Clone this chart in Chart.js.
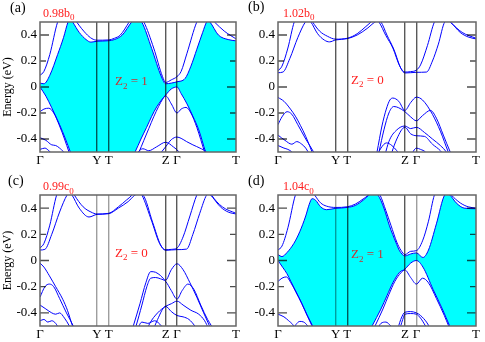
<!DOCTYPE html>
<html>
<head>
<meta charset="utf-8">
<script src="https://cdn.jsdelivr.net/npm/chart.js@4.4.0/dist/chart.umd.min.js"></script>
<style>
html, body { margin: 0; padding: 0; background: #fff; }
#wrap { position: relative; width: 485px; height: 342px; overflow: hidden;
        font-family: 'Liberation Serif', 'Times New Roman', serif; }
canvas { position: absolute; }
.lbl { position: absolute; white-space: nowrap; line-height: 1; }
.pl { font-size: 14px; color: #000; }
.st { font-size: 12px; color: #ff2020; }
.z2 { font-size: 13px; color: #ff2020; }
.z2.oncyan { color: #c83232; }
.lbl sub { font-size: 9px; vertical-align: baseline; position: relative; top: 0.4em; }
</style>
</head>
<body>
<div id="wrap">
  <canvas id="pa" width="242" height="171" style="left:0;top:0"></canvas>
  <canvas id="pb" width="243" height="171" style="left:242px;top:0"></canvas>
  <canvas id="pc" width="242" height="171" style="left:0;top:171px"></canvas>
  <canvas id="pd" width="243" height="171" style="left:242px;top:171px"></canvas>

  <div class="lbl pl" style="left:10px;top:0.6px">(a)</div>
  <div class="lbl pl" style="left:248px;top:0.3px">(b)</div>
  <div class="lbl pl" style="left:8px;top:173.8px">(c)</div>
  <div class="lbl pl" style="left:248px;top:173.8px">(d)</div>

  <div class="lbl st" style="left:43px;top:6.6px">0.98b<sub>0</sub></div>
  <div class="lbl st" style="left:283px;top:6.6px">1.02b<sub>0</sub></div>
  <div class="lbl st" style="left:43px;top:180px">0.99c<sub>0</sub></div>
  <div class="lbl st" style="left:283px;top:180px">1.04c<sub>0</sub></div>

  <div class="lbl z2 oncyan" style="left:115px;top:74px">Z<sub>2</sub> = 1</div>
  <div class="lbl z2" style="left:351px;top:72.6px">Z<sub>2</sub> = 0</div>
  <div class="lbl z2" style="left:115px;top:245.8px">Z<sub>2</sub> = 0</div>
  <div class="lbl z2 oncyan" style="left:351px;top:247px">Z<sub>2</sub> = 1</div>
</div>

<script>
// k-path (Gamma-Y-T-Z-Gamma-T), normalised length
const kTicks = [0, 0.291, 0.35, 0.641, 0.699, 1];
const kLabels = ['Γ', 'Y', 'T', 'Z', 'Γ', 'T'];
const eTicks = [-0.4, -0.3, -0.2, -0.1, 0, 0.1, 0.2, 0.3, 0.4];
const eLabels = ['-0.4', '', '-0.2', '', '0', '', '0.2', '', '0.4'];

// bands as [k, E(eV)]
// (a) 0.98 b0
const a_c1 = [[0,0.09],[0.02,0.12],[0.05,0.25],[0.09,0.5],[0.135,0.62],[0.187,0.5],[0.235,0.41],[0.265,0.372],[0.291,0.36],[0.35,0.362],[0.38,0.375],[0.41,0.4],[0.455,0.5],[0.49,0.58],[0.53,0.5],[0.58,0.3],[0.625,0.08],[0.641,0.035],[0.67,0.055],[0.699,0.08],[0.72,0.12],[0.75,0.26],[0.8,0.5],[0.835,0.58],[0.89,0.5],[0.94,0.43],[1,0.37]];
const a_c2 = [[0,0.03],[0.02,0.025],[0.05,0.09],[0.09,0.25],[0.12,0.38],[0.143,0.5],[0.155,0.53],[0.167,0.5],[0.2,0.42],[0.235,0.365],[0.26,0.345],[0.291,0.352],[0.35,0.356],[0.38,0.365],[0.42,0.4],[0.468,0.5],[0.493,0.53],[0.519,0.5],[0.57,0.295],[0.62,0.077],[0.641,0.025],[0.67,0.03],[0.699,0.04],[0.74,0.065],[0.77,0.16],[0.8,0.29],[0.83,0.42],[0.85,0.5],[0.858,0.51],[0.867,0.5],[0.91,0.4],[0.96,0.365],[1,0.355]];
const a_v1 = [[0,0],[0.03,-0.07],[0.06,-0.16],[0.1,-0.29],[0.13,-0.4],[0.155,-0.5],[0.2,-0.68],[0.3,-0.85],[0.4,-0.72],[0.485,-0.5],[0.515,-0.4],[0.544,-0.31],[0.57,-0.225],[0.595,-0.154],[0.62,-0.1],[0.641,-0.062],[0.67,-0.015],[0.699,0],[0.72,-0.05],[0.75,-0.13],[0.78,-0.225],[0.81,-0.33],[0.845,-0.5],[0.9,-0.72],[1,-0.9]];
const a_v2 = [[0,-0.19],[0.02,-0.17],[0.045,-0.163],[0.07,-0.2],[0.1,-0.3],[0.125,-0.4],[0.148,-0.5],[0.18,-0.62],[0.3,-0.9],[0.42,-0.75],[0.505,-0.5],[0.53,-0.41],[0.555,-0.32],[0.58,-0.23],[0.605,-0.15],[0.625,-0.095],[0.641,-0.068],[0.67,-0.13],[0.699,-0.2],[0.72,-0.17],[0.745,-0.157],[0.77,-0.2],[0.8,-0.31],[0.84,-0.5],[0.88,-0.66],[1,-0.9]];
const a_v3 = [[0,-0.39],[0.03,-0.41],[0.06,-0.445],[0.08,-0.45],[0.1,-0.47],[0.12,-0.5],[0.14,-0.56]];
const a_v4 = [[0,-0.48],[0.025,-0.47],[0.045,-0.49],[0.065,-0.52]];
const a_v5 = [[0.46,-0.58],[0.5,-0.5],[0.525,-0.475],[0.555,-0.49],[0.595,-0.46],[0.641,-0.425],[0.68,-0.46],[0.71,-0.5],[0.74,-0.56]];
const a_v6 = [[0.59,-0.56],[0.62,-0.5],[0.641,-0.46],[0.67,-0.405],[0.699,-0.385],[0.72,-0.395],[0.748,-0.42],[0.78,-0.445],[0.816,-0.47],[0.85,-0.5],[0.88,-0.56]];

// (b) 1.02 b0
const b_c1 = [[0,0.125],[0.02,0.16],[0.05,0.3],[0.082,0.5],[0.13,0.62],[0.175,0.5],[0.21,0.43],[0.25,0.39],[0.291,0.368],[0.35,0.375],[0.4,0.41],[0.44,0.46],[0.47,0.5],[0.49,0.53],[0.51,0.5],[0.545,0.395],[0.58,0.3],[0.615,0.16],[0.641,0.115],[0.67,0.118],[0.699,0.13],[0.72,0.17],[0.755,0.32],[0.79,0.5],[0.83,0.56],[0.87,0.5],[0.93,0.42],[1,0.375]];
const b_c2 = [[0,0.11],[0.025,0.115],[0.06,0.22],[0.1,0.38],[0.138,0.5],[0.152,0.52],[0.166,0.5],[0.2,0.41],[0.235,0.36],[0.26,0.347],[0.291,0.362],[0.35,0.372],[0.4,0.4],[0.45,0.45],[0.49,0.5],[0.505,0.51],[0.52,0.5],[0.55,0.4],[0.585,0.29],[0.62,0.145],[0.641,0.108],[0.67,0.11],[0.699,0.113],[0.75,0.115],[0.78,0.2],[0.81,0.33],[0.842,0.5],[0.855,0.51],[0.87,0.5],[0.92,0.42],[0.96,0.385],[1,0.37]];
const b_v1 = [[0,-0.08],[0.03,-0.11],[0.063,-0.17],[0.09,-0.23],[0.113,-0.295],[0.14,-0.38],[0.172,-0.5],[0.21,-0.65],[0.35,-0.95],[0.47,-0.72],[0.5,-0.5],[0.525,-0.3],[0.547,-0.17],[0.565,-0.1],[0.58,-0.085],[0.61,-0.11],[0.641,-0.18],[0.67,-0.12],[0.699,-0.078],[0.73,-0.1],[0.78,-0.21],[0.82,-0.34],[0.86,-0.5],[0.9,-0.64],[1,-0.85]];
const b_v2 = [[0,-0.29],[0.02,-0.23],[0.046,-0.19],[0.07,-0.21],[0.1,-0.29],[0.14,-0.4],[0.18,-0.5],[0.22,-0.62],[0.35,-0.95],[0.48,-0.7],[0.51,-0.5],[0.535,-0.33],[0.56,-0.2],[0.585,-0.15],[0.61,-0.16],[0.641,-0.19],[0.67,-0.23],[0.699,-0.26],[0.73,-0.22],[0.77,-0.18],[0.8,-0.24],[0.835,-0.37],[0.87,-0.5],[0.92,-0.66],[1,-0.85]];
const b_v3 = [[0,-0.37],[0.035,-0.41],[0.07,-0.44],[0.095,-0.42],[0.12,-0.44],[0.14,-0.47],[0.16,-0.52]];
const b_v4 = [[0,-0.45],[0.03,-0.47],[0.05,-0.48],[0.07,-0.5],[0.09,-0.54]];
const b_v5 = [[0.52,-0.65],[0.56,-0.42],[0.6,-0.33],[0.641,-0.3],[0.67,-0.32],[0.699,-0.31],[0.74,-0.35],[0.78,-0.4],[0.82,-0.45],[0.85,-0.5],[0.88,-0.58]];
const b_v6 = [[0.55,-0.62],[0.6,-0.4],[0.641,-0.31],[0.67,-0.36],[0.699,-0.375],[0.74,-0.38],[0.78,-0.44],[0.82,-0.49],[0.84,-0.53]];
const b_v7 = [[0.49,-0.56],[0.52,-0.47],[0.548,-0.43],[0.575,-0.45],[0.6,-0.49],[0.62,-0.53]];
const b_v8 = [[0.67,-0.53],[0.699,-0.47],[0.72,-0.48],[0.745,-0.5],[0.76,-0.53]];

// (c) 0.99 c0
const c_c1 = [[0,0.095],[0.02,0.13],[0.05,0.27],[0.085,0.5],[0.13,0.62],[0.175,0.5],[0.22,0.41],[0.26,0.37],[0.291,0.355],[0.35,0.36],[0.4,0.41],[0.44,0.46],[0.47,0.5],[0.495,0.55],[0.52,0.5],[0.57,0.3],[0.61,0.13],[0.641,0.082],[0.67,0.085],[0.699,0.095],[0.73,0.18],[0.765,0.34],[0.8,0.5],[0.84,0.6],[0.875,0.5],[0.93,0.41],[1,0.36]];
const c_c2 = [[0,0.08],[0.025,0.085],[0.06,0.2],[0.1,0.37],[0.138,0.5],[0.15,0.52],[0.163,0.5],[0.2,0.4],[0.25,0.332],[0.291,0.352],[0.35,0.357],[0.4,0.4],[0.45,0.45],[0.485,0.5],[0.503,0.51],[0.525,0.5],[0.575,0.29],[0.615,0.12],[0.641,0.078],[0.699,0.083],[0.748,0.087],[0.78,0.2],[0.815,0.36],[0.85,0.5],[0.86,0.51],[0.87,0.5],[0.92,0.41],[0.96,0.37],[1,0.355]];
const c_v1 = [[0,-0.02],[0.02,-0.05],[0.048,-0.117],[0.08,-0.2],[0.116,-0.296],[0.14,-0.38],[0.166,-0.5],[0.2,-0.63],[0.35,-0.95],[0.44,-0.68],[0.476,-0.5],[0.51,-0.33],[0.54,-0.17],[0.565,-0.085],[0.59,-0.09],[0.615,-0.115],[0.641,-0.15],[0.67,-0.07],[0.699,-0.025],[0.73,-0.07],[0.765,-0.17],[0.8,-0.28],[0.835,-0.4],[0.865,-0.5],[0.9,-0.62],[1,-0.85]];
const c_v2 = [[0,-0.28],[0.025,-0.2],[0.048,-0.18],[0.07,-0.2],[0.1,-0.29],[0.135,-0.4],[0.17,-0.5],[0.21,-0.63],[0.35,-0.95],[0.45,-0.68],[0.49,-0.5],[0.52,-0.34],[0.545,-0.2],[0.565,-0.135],[0.59,-0.13],[0.615,-0.14],[0.641,-0.16],[0.67,-0.23],[0.699,-0.295],[0.725,-0.23],[0.755,-0.18],[0.785,-0.22],[0.82,-0.34],[0.855,-0.45],[0.875,-0.5],[0.91,-0.62],[1,-0.85]];
const c_v3 = [[0,-0.34],[0.03,-0.37],[0.06,-0.4],[0.08,-0.41],[0.1,-0.4],[0.125,-0.44],[0.15,-0.5],[0.17,-0.56]];
const c_v4 = [[0,-0.46],[0.02,-0.45],[0.04,-0.47],[0.06,-0.46],[0.08,-0.48],[0.1,-0.53]];
const c_v5 = [[0.52,-0.62],[0.56,-0.48],[0.6,-0.4],[0.641,-0.35],[0.67,-0.33],[0.699,-0.31],[0.73,-0.34],[0.77,-0.38],[0.81,-0.41],[0.84,-0.46],[0.86,-0.52]];
const c_v6 = [[0.56,-0.6],[0.6,-0.45],[0.641,-0.35],[0.67,-0.39],[0.699,-0.42],[0.73,-0.43],[0.76,-0.45],[0.79,-0.5],[0.81,-0.55]];
const c_v7 = [[0.49,-0.55],[0.52,-0.47],[0.55,-0.48],[0.585,-0.46],[0.62,-0.5],[0.64,-0.54]];

// (d) 1.04 c0
const d_c1 = [[0,0.08],[0.02,0.11],[0.05,0.25],[0.088,0.5],[0.135,0.62],[0.185,0.5],[0.215,0.44],[0.245,0.415],[0.291,0.405],[0.35,0.41],[0.39,0.43],[0.43,0.47],[0.455,0.5],[0.48,0.56],[0.515,0.5],[0.545,0.38],[0.57,0.27],[0.6,0.14],[0.62,0.08],[0.641,0.045],[0.67,0.07],[0.699,0.075],[0.73,0.15],[0.76,0.3],[0.79,0.5],[0.83,0.58],[0.875,0.5],[0.92,0.44],[0.96,0.41],[1,0.4]];
const d_c2 = [[0,0.045],[0.02,0.03],[0.045,0.06],[0.08,0.13],[0.11,0.22],[0.14,0.34],[0.158,0.43],[0.172,0.472],[0.19,0.46],[0.215,0.41],[0.245,0.388],[0.291,0.398],[0.35,0.405],[0.39,0.42],[0.43,0.46],[0.46,0.5],[0.485,0.52],[0.505,0.5],[0.535,0.4],[0.563,0.265],[0.595,0.14],[0.614,0.074],[0.641,0.035],[0.67,0.05],[0.699,0.058],[0.732,0.023],[0.76,0.08],[0.8,0.28],[0.842,0.5],[0.855,0.51],[0.868,0.5],[0.9,0.44],[0.94,0.4],[1,0.395]];
const d_v1 = [[0,0],[0.025,-0.055],[0.045,-0.1],[0.065,-0.16],[0.085,-0.22],[0.115,-0.31],[0.147,-0.415],[0.175,-0.5],[0.22,-0.65],[0.3,-0.8],[0.4,-0.72],[0.475,-0.5],[0.52,-0.37],[0.55,-0.27],[0.58,-0.17],[0.614,-0.09],[0.641,-0.066],[0.67,-0.02],[0.699,0],[0.732,-0.05],[0.783,-0.22],[0.83,-0.37],[0.867,-0.5],[0.92,-0.68],[1,-0.85]];
const d_v2 = [[0,-0.16],[0.02,-0.135],[0.042,-0.125],[0.065,-0.17],[0.09,-0.24],[0.12,-0.33],[0.15,-0.43],[0.172,-0.5],[0.21,-0.62],[0.3,-0.82],[0.42,-0.72],[0.49,-0.5],[0.53,-0.37],[0.56,-0.26],[0.59,-0.16],[0.62,-0.095],[0.641,-0.072],[0.67,-0.13],[0.699,-0.18],[0.73,-0.135],[0.76,-0.17],[0.8,-0.29],[0.84,-0.42],[0.862,-0.5],[0.9,-0.62],[1,-0.85]];
const d_v3 = [[0,-0.41],[0.03,-0.43],[0.054,-0.46],[0.075,-0.49],[0.09,-0.53]];
const d_v4 = [[0.07,-0.54],[0.09,-0.49],[0.11,-0.465],[0.13,-0.47],[0.15,-0.5],[0.165,-0.54]];
const d_v5 = [[0.6,-0.55],[0.62,-0.45],[0.641,-0.395],[0.67,-0.39],[0.699,-0.4],[0.72,-0.42],[0.75,-0.47],[0.77,-0.52]];
const d_v6 = [[0.61,-0.55],[0.63,-0.45],[0.641,-0.41],[0.67,-0.405],[0.699,-0.41],[0.72,-0.44],[0.745,-0.5],[0.76,-0.54]];
const d_v7 = [[0.5,-0.53],[0.52,-0.48],[0.545,-0.47],[0.57,-0.5],[0.59,-0.53]];

Chart.defaults.font.family = "'Liberation Serif', 'Times New Roman', serif";
Chart.defaults.color = '#000';

const DARK = 'rgba(0,0,0,0.65)';
const GRAY = 'rgba(0,0,0,0.38)';
const NONE = 'rgba(0,0,0,0)';

// inward tick marks on both sides + frame
const frameTicks = {
    id: 'frameTicks',
    afterDraw(chart) {
        const { ctx, chartArea: { left, right, top, bottom }, scales: { y } } = chart;
        ctx.save();
        ctx.strokeStyle = 'rgba(0,0,0,0.7)';
        ctx.lineWidth = 1.3;
        y.ticks.forEach((t, i) => {
            const py = y.getPixelForValue(t.value);
            const len = eLabels[i] ? 9 : 6;
            ctx.beginPath();
            ctx.moveTo(left, py); ctx.lineTo(left + len, py);
            ctx.moveTo(right, py); ctx.lineTo(right - len, py);
            ctx.stroke();
        });
        ctx.strokeStyle = '#666';
        ctx.lineWidth = 1.5;
        ctx.strokeRect(left, top, right - left, bottom - top);
        ctx.restore();
    }
};

function bandSet(bands, fillPair) {
    return bands.map((b, i) => ({
        data: b.map(([x, y]) => ({ x, y })),
        borderColor: '#0000ff',
        borderWidth: 1,
        pointRadius: 0,
        cubicInterpolationMode: 'monotone',
        clip: 0,
        fill: (fillPair && i === 1) ? '+1' : false,
        backgroundColor: '#00ffff'
    }));
}

function makePanel(id, bands, filled, vcols, geo) {
    return new Chart(document.getElementById(id), {
        type: 'line',
        data: { datasets: bandSet(bands, filled) },
        options: {
            responsive: false,
            animation: false,
            devicePixelRatio: 1,
            events: [],
            layout: { padding: { top: geo.top, right: geo.right, left: 0, bottom: 0 } },
            elements: { line: { capBezierPoints: false } },
            plugins: {
                legend: { display: false },
                tooltip: { enabled: false },
                filler: { drawTime: 'beforeDatasetsDraw' }
            },
            scales: {
                x: {
                    type: 'linear', min: 0, max: 1,
                    afterBuildTicks: s => { s.ticks = kTicks.map(v => ({ value: v })); },
                    ticks: {
                        callback: (v, i) => kLabels[i],
                        autoSkip: false, maxRotation: 0, minRotation: 0,
                        padding: 1, font: { size: 13 }, color: '#000'
                    },
                    grid: { z: 1, drawTicks: false, lineWidth: 1.4, color: c => vcols[c.index] },
                    border: { display: false },
                    afterFit: s => { s.height = geo.xh; }
                },
                y: {
                    type: 'linear', min: -0.5, max: 0.5,
                    afterBuildTicks: s => { s.ticks = eTicks.map(v => ({ value: v })); },
                    ticks: { callback: (v, i) => eLabels[i], padding: 3, font: { size: 13 }, color: '#000' },
                    grid: { display: false, drawTicks: false },
                    border: { display: false },
                    title: {
                        display: geo.title, text: 'Energy (eV)',
                        font: { size: 12 }, color: '#000', padding: { top: 1, bottom: 0 }
                    },
                    afterFit: s => { s.width = geo.yw; }
                }
            }
        },
        plugins: [frameTicks]
    });
}

const panelA = makePanel('pa', [a_c1, a_c2, a_v1, a_v2, a_v3, a_v4, a_v5, a_v6], true,
    [NONE, DARK, DARK, DARK, DARK, NONE], { top: 22, right: 6, xh: 19, yw: 40, title: true });
const panelB = makePanel('pb', [b_c1, b_c2, b_v1, b_v2, b_v3, b_v4, b_v5, b_v6, b_v7, b_v8], false,
    [NONE, DARK, DARK, DARK, DARK, NONE], { top: 22, right: 9, xh: 19, yw: 36, title: false });
const panelC = makePanel('pc', [c_c1, c_c2, c_v1, c_v2, c_v3, c_v4, c_v5, c_v6, c_v7], false,
    [NONE, GRAY, GRAY, DARK, DARK, NONE], { top: 24, right: 6, xh: 16, yw: 40, title: true });
const panelD = makePanel('pd', [d_c1, d_c2, d_v1, d_v2, d_v3, d_v4, d_v5, d_v6, d_v7], true,
    [NONE, GRAY, DARK, DARK, GRAY, NONE], { top: 24, right: 9, xh: 16, yw: 36, title: false });
</script>
</body>
</html>
